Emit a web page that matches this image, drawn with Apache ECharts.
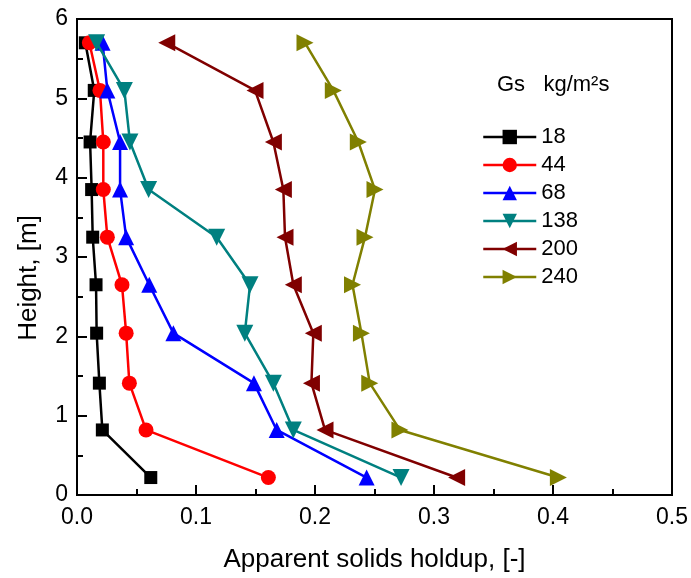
<!DOCTYPE html>
<html>
<head>
<meta charset="utf-8">
<script src="https://cdn.jsdelivr.net/npm/echarts@6/dist/echarts.min.js"></script>
<style>
  html, body { margin: 0; padding: 0; background: #fff; }
  #chart { width: 691px; height: 578px; }
</style>
</head>
<body>
<div id="chart"></div>
<script>
// Measurement heights along the riser, [m]
const heights = [5.7, 5.1, 4.45, 3.85, 3.25, 2.65, 2.04, 1.41, 0.82, 0.22];

// Solids flux labels, kg/m2s
const fluxNames = ['18', '44', '68', '138', '200', '240'];

// Apparent solids holdup at each height, one array per solids flux
const holdup18  = [0.007, 0.0145, 0.011, 0.0123, 0.0132, 0.016, 0.0165, 0.0188, 0.0213, 0.062];
const holdup44  = [0.0104, 0.0193, 0.0221, 0.0221, 0.0255, 0.0378, 0.0413, 0.044, 0.058, 0.1608];
const holdup68  = [0.0215, 0.0255, 0.0362, 0.0362, 0.0413, 0.0607, 0.081, 0.1487, 0.1678, 0.2434];
const holdup138 = [0.0165, 0.0398, 0.0445, 0.0602, 0.1174, 0.1454, 0.141, 0.165, 0.1818, 0.2723];
const holdup200 = [0.0754, 0.1496, 0.165, 0.1734, 0.1748, 0.1818, 0.1986, 0.197, 0.2084, 0.319];
const holdup240 = [0.1916, 0.2154, 0.2364, 0.2504, 0.242, 0.2315, 0.239, 0.246, 0.2714, 0.4045];

const FONT = "'Liberation Sans', Arial, sans-serif";

function pairs(values) {
  return values.map((v, i) => [v, heights[i]]);
}

const seriesDefs = [
  { data: holdup18,  color: '#000000', symbol: 'rect',     size: 13, rotate: 0 },
  { data: holdup44,  color: '#ff0000', symbol: 'circle',   size: 15, rotate: 0 },
  { data: holdup68,  color: '#0000ff', symbol: 'triangle', size: 16, rotate: 0 },
  { data: holdup138, color: '#008080', symbol: 'triangle', size: 17, rotate: 180 },
  { data: holdup200, color: '#800000', symbol: 'triangle', size: 17, rotate: 90 },
  { data: holdup240, color: '#808000', symbol: 'triangle', size: 17, rotate: -90 }
];

const chart = echarts.init(document.getElementById('chart'), null, { renderer: 'canvas' });

chart.setOption({
  animation: false,
  backgroundColor: '#ffffff',
  textStyle: { fontFamily: FONT },
  title: {
    text: 'Gs   kg/m\u00B2s',
    left: 492,
    top: 69,
    textStyle: { fontFamily: FONT, fontSize: 22, fontWeight: 'normal', color: '#000' }
  },
  legend: {
    orient: 'vertical',
    left: 477,
    top: 121,
    itemWidth: 53,
    itemHeight: 18,
    itemGap: 6,
    lineStyle: { width: 2.5 },
    textStyle: { fontFamily: FONT, fontSize: 22, color: '#000' },
    data: fluxNames
  },
  grid: {
    left: 77, right: 19, top: 19, bottom: 81,
    show: true,
    borderColor: '#000',
    borderWidth: 2,
    backgroundColor: 'transparent'
  },
  xAxis: {
    type: 'value',
    min: 0, max: 0.5, interval: 0.1,
    name: 'Apparent solids holdup, [-]',
    nameLocation: 'middle',
    nameGap: 52,
    nameTextStyle: { fontFamily: FONT, fontSize: 26, color: '#000' },
    axisLine: { show: true, onZero: false, lineStyle: { color: '#000', width: 2 } },
    axisTick: { show: true, inside: true, length: 10, lineStyle: { color: '#000', width: 2 } },
    minorTick: { show: true, splitNumber: 2, length: 6, lineStyle: { color: '#000', width: 2 } },
    axisLabel: {
      fontFamily: FONT, fontSize: 23, color: '#000', margin: 11,
      formatter: v => v.toFixed(1)
    },
    splitLine: { show: false }
  },
  yAxis: {
    type: 'value',
    min: 0, max: 6, interval: 1,
    name: 'Height, [m]',
    nameLocation: 'middle',
    nameGap: 35,
    nameTextStyle: { fontFamily: FONT, fontSize: 26, color: '#000', padding: [0, 42, 0, 0] },
    axisLine: { show: true, onZero: false, lineStyle: { color: '#000', width: 2 } },
    axisTick: { show: true, inside: true, length: 10, lineStyle: { color: '#000', width: 2 } },
    minorTick: { show: true, splitNumber: 2, length: 6, lineStyle: { color: '#000', width: 2 } },
    axisLabel: { fontFamily: FONT, fontSize: 23, color: '#000', margin: 9 },
    splitLine: { show: false }
  },
  series: seriesDefs.map((d, i) => ({
    name: fluxNames[i],
    type: 'line',
    data: pairs(d.data),
    symbol: d.symbol,
    symbolSize: d.size,
    symbolRotate: d.rotate,
    showSymbol: true,
    lineStyle: { color: d.color, width: 2.5 },
    itemStyle: { color: d.color, borderWidth: 0 },
    emphasis: { disabled: true },
    z: 2 + i
  }))
});
</script>
</body>
</html>
